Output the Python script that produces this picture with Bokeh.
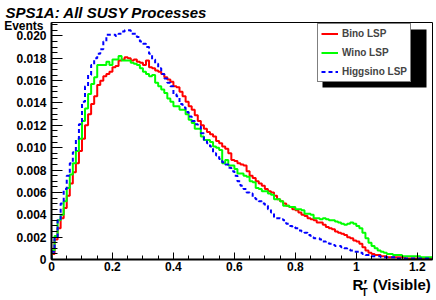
import numpy as np
from bokeh.plotting import figure
from bokeh.models import (Range1d, FixedTicker, Legend, LegendItem, BoxAnnotation,
                          Title, LinearAxis)
from bokeh.embed import file_html
from bokeh.resources import INLINE

# ---- data: histograms, 125 bins of width 0.01 starting at 0 ----
bin_width = 0.01
bin_start = 0.0

bino = [
    0.0005, 0.0018, 0.0028, 0.0037, 0.0046, 0.0057, 0.0068, 0.0078, 0.0086, 0.0097,
    0.0108, 0.0120, 0.0130, 0.0139, 0.0146, 0.0156, 0.0160, 0.0164, 0.0166, 0.0168,
    0.0172, 0.0173, 0.0178, 0.0179, 0.0181, 0.0180, 0.0178, 0.0179, 0.0177, 0.0176,
    0.0174, 0.0178, 0.0172, 0.0171, 0.0169, 0.0168, 0.0166, 0.0163, 0.0161, 0.0159,
    0.0155, 0.0154, 0.0150, 0.0146, 0.0141, 0.0137, 0.0134, 0.0129, 0.0124, 0.0120,
    0.0117, 0.0114, 0.0112, 0.0110, 0.0106, 0.0104, 0.0101, 0.0099, 0.0095, 0.0089,
    0.0088, 0.0086, 0.0085, 0.0084, 0.0079, 0.0075, 0.0073, 0.0070, 0.0068, 0.0066,
    0.0063, 0.0061, 0.0060, 0.0057, 0.0054, 0.0052, 0.0050, 0.0048, 0.0047, 0.0045,
    0.0044, 0.0042, 0.0040, 0.0039, 0.0037, 0.0036, 0.0035, 0.0033, 0.0033, 0.0031,
    0.0029, 0.0028, 0.0027, 0.0025, 0.0024, 0.0023, 0.0022, 0.0020, 0.0019, 0.0017,
    0.0016, 0.0014, 0.0011, 0.0008, 0.0006, 0.0005, 0.0004, 0.0004, 0.0003, 0.0003,
    0.0002, 0.0002, 0.0002, 0.0002, 0.0002, 0.0002, 0.0001, 0.0001, 0.0001, 0.0001,
    0.0001, 0.0001, 0.0001, 0.0001, 0.0001,
]

wino = [
    0.0008, 0.0021, 0.0035, 0.0040, 0.0052, 0.0064, 0.0076, 0.0086, 0.0097, 0.0108,
    0.0124, 0.0135, 0.0148, 0.0157, 0.0163, 0.0174, 0.0174, 0.0174, 0.0177, 0.0174,
    0.0179, 0.0179, 0.0182, 0.0178, 0.0178, 0.0178, 0.0176, 0.0175, 0.0174, 0.0171,
    0.0168, 0.0166, 0.0164, 0.0165, 0.0158, 0.0155, 0.0152, 0.0149, 0.0144, 0.0141,
    0.0137, 0.0137, 0.0134, 0.0134, 0.0130, 0.0125, 0.0122, 0.0117, 0.0117, 0.0110,
    0.0107, 0.0107, 0.0105, 0.0101, 0.0100, 0.0098, 0.0086, 0.0089, 0.0084, 0.0084,
    0.0081, 0.0077, 0.0077, 0.0075, 0.0074, 0.0070, 0.0069, 0.0064, 0.0063, 0.0061,
    0.0061, 0.0059, 0.0058, 0.0054, 0.0054, 0.0052, 0.0048, 0.0048, 0.0047, 0.0047,
    0.0045, 0.0045, 0.0044, 0.0041, 0.0041, 0.0040, 0.0037, 0.0037, 0.0036, 0.0037,
    0.0036, 0.0035, 0.0035, 0.0034, 0.0033, 0.0032, 0.0031, 0.0032, 0.0033, 0.0032,
    0.0030, 0.0028, 0.0024, 0.0019, 0.0015, 0.0012, 0.0010, 0.0008, 0.0007, 0.0006,
    0.0005, 0.0005, 0.0004, 0.0004, 0.0004, 0.0003, 0.0003, 0.0003, 0.0003, 0.0003,
    0.0003, 0.0002, 0.0002, 0.0002, 0.0002,
]

higgsino = [
    0.0007, 0.0020, 0.0036, 0.0050, 0.0063, 0.0075, 0.0086, 0.0096, 0.0108, 0.0121,
    0.0141, 0.0155, 0.0165, 0.0174, 0.0180, 0.0184, 0.0188, 0.0195, 0.0201, 0.0201,
    0.0201, 0.0200, 0.0202, 0.0204, 0.0205, 0.0205, 0.0202, 0.0202, 0.0199, 0.0195,
    0.0193, 0.0190, 0.0184, 0.0179, 0.0175, 0.0171, 0.0166, 0.0162, 0.0158, 0.0155,
    0.0148, 0.0146, 0.0139, 0.0136, 0.0132, 0.0128, 0.0124, 0.0121, 0.0119, 0.0113,
    0.0106, 0.0104, 0.0101, 0.0095, 0.0093, 0.0090, 0.0087, 0.0085, 0.0082, 0.0079,
    0.0075, 0.0070, 0.0066, 0.0063, 0.0060, 0.0059, 0.0055, 0.0054, 0.0052, 0.0050,
    0.0048, 0.0045, 0.0042, 0.0037, 0.0037, 0.0036, 0.0035, 0.0032, 0.0030, 0.0029,
    0.0028, 0.0026, 0.0025, 0.0024, 0.0022, 0.0020, 0.0019, 0.0019, 0.0018, 0.0016,
    0.0015, 0.0014, 0.0013, 0.0012, 0.0012, 0.0011, 0.0010, 0.0009, 0.0008, 0.0007,
    0.0007, 0.0006, 0.0005, 0.0004, 0.0004, 0.0003, 0.0003, 0.0003, 0.0002, 0.0002,
    0.0002, 0.0002, 0.0002, 0.0001, 0.0001, 0.0001, 0.0001, 0.0001, 0.0001, 0.0001,
    0.0001, 0.0001, 0.0001, 0.0001, 0.0001,
]

series_names = ["Bino LSP", "Wino LSP", "Higgsino LSP"]

x_ticks = [0, 0.2, 0.4, 0.6, 0.8, 1.0, 1.2]
x_tick_labels = ["0", "0.2", "0.4", "0.6", "0.8", "1", "1.2"]
y_ticks = [0, 0.002, 0.004, 0.006, 0.008, 0.010, 0.012, 0.014, 0.016, 0.018, 0.020]
y_tick_labels = ["0", "0.002", "0.004", "0.006", "0.008", "0.010", "0.012",
                 "0.014", "0.016", "0.018", "0.020"]

title_text = "SPS1A: All SUSY Processes"
y_label_text = ["Events"]
# x axis title "R'_T (Visible)": main parts and the subscript
x_label_main = ["R\u2032", "(Visible)"]
x_label_sub = ["T"]

# layout / placement of axis titles (not data)
x_label_main_at = [1.0115, 1.1489]
x_label_sub_at = [1.0269]
y_label_at = [0.02085]
FONT = "Liberation Sans"


def step_xy(vals):
    vals = np.asarray(vals, dtype=float)
    edges = bin_start + bin_width * np.arange(len(vals) + 1)
    xs = np.repeat(edges, 2)
    ys = np.concatenate([[0.0], np.repeat(vals, 2), [0.0]])
    return xs, ys


p = figure(width=436, height=300, title=None,
           x_range=Range1d(0, 1.25), y_range=Range1d(0, 0.0212),
           output_backend="svg", toolbar_location=None,
           min_border_left=51, min_border_right=4, min_border_top=20, min_border_bottom=41)

p.background_fill_color = "white"
p.border_fill_color = "white"
p.outline_line_color = "black"
p.outline_line_width = 1
p.xgrid.visible = False
p.ygrid.visible = False

# axes
for ax in (p.xaxis[0], p.yaxis[0]):
    ax.axis_line_color = "black"
    ax.axis_line_width = 2
    ax.major_tick_line_color = "black"
    ax.minor_tick_line_color = "black"
    ax.major_tick_out = 0
    ax.minor_tick_out = 0
    ax.major_label_text_font = FONT
    ax.major_label_text_font_style = "bold"
    ax.major_label_text_color = "black"
    ax.major_label_text_font_size = "12px"

p.xaxis.ticker = FixedTicker(ticks=x_ticks, minor_ticks=[i * 0.05 for i in range(26)])
p.xaxis.major_label_overrides = dict(zip(x_ticks, x_tick_labels))
p.xaxis.major_tick_in = 7
p.xaxis.minor_tick_in = 4
p.xaxis.major_label_standoff = 2

p.yaxis.ticker = FixedTicker(ticks=y_ticks, minor_ticks=[i * 0.0005 for i in range(43)])
p.yaxis.major_label_overrides = dict(zip(y_ticks, y_tick_labels))
p.yaxis.major_tick_in = 11
p.yaxis.minor_tick_in = 6
p.yaxis.major_label_standoff = 5


# axis titles, carried by label-only axes outside the main ones
def text_axis(labels, at, size, standoff, side):
    ax = LinearAxis(ticker=FixedTicker(ticks=at),
                    major_label_overrides=dict(zip(at, labels)),
                    axis_line_color=None, major_tick_line_color=None,
                    minor_tick_line_color=None, major_tick_out=0, major_tick_in=0,
                    major_label_standoff=standoff,
                    major_label_text_font=FONT, major_label_text_font_style="bold",
                    major_label_text_font_size=size, major_label_text_color="black")
    p.add_layout(ax, side)


text_axis(x_label_main, x_label_main_at, "15px", 2, "below")
text_axis(x_label_sub, x_label_sub_at, "10px", -9, "below")
text_axis(y_label_text, y_label_at, "12px", -30, "left")

# title
p.add_layout(Title(text=title_text, align="left", offset=-46, standoff=3,
                   vertical_align="bottom", text_font=FONT, text_font_style="bold italic",
                   text_font_size="15px", text_color="black"), "above")

# histograms
colors = ["#ff0000", "#00ff00", "#0000ff"]
renderers = []
for vals, col, dash in zip([bino, wino, higgsino], colors, ["solid", "solid", "4 3"]):
    xs, ys = step_xy(vals)
    r = p.line(xs, ys, line_color=col, line_width=2, line_dash=dash)
    renderers.append(r)

# legend shadow (frame-relative screen units, y up) + legend
shadow = BoxAnnotation(left=271, right=375, bottom=172, top=230,
                       left_units="screen", right_units="screen",
                       bottom_units="screen", top_units="screen",
                       fill_color="black", fill_alpha=1, line_color=None,
                       level="overlay")
legend = Legend(items=[LegendItem(label=n, renderers=[r]) for n, r in zip(series_names, renderers)],
                location=(266, 177), margin=0, padding=3, spacing=6,
                glyph_width=17, glyph_height=13, label_height=13, label_width=60,
                label_standoff=4,
                label_text_font=FONT, label_text_font_style="bold", label_text_font_size="10px",
                border_line_color="black", border_line_width=1,
                background_fill_color="white", background_fill_alpha=1)
legend.level = "overlay"
p.renderers.append(shadow)
p.add_layout(legend)

open("out.html", "w").write(file_html(p, INLINE))
